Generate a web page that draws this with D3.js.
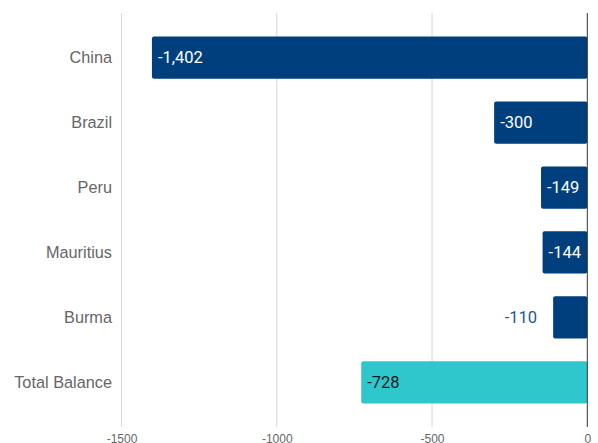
<!DOCTYPE html>
<html>
<head>
<meta charset="utf-8">
<script src="https://cdn.jsdelivr.net/npm/d3@7"></script>
<style>
  html, body { margin: 0; padding: 0; background: #fff; }
  svg { display: block; font-family: Roboto, "Noto Sans", sans-serif; }
</style>
</head>
<body>
<svg id="chart" width="598" height="443"></svg>
<script>
// Trade balance by country (negative = deficit)
const categories = ["China", "Brazil", "Peru", "Mauritius", "Burma", "Total Balance"];
const values = [-1402, -300, -149, -144, -110, -728];
const isTotal = [false, false, false, false, false, true];
const xTicks = [-1500, -1000, -500, 0];

(function () {
  const svg = d3.select("#chart");
  const plotLeft = 121.5, plotRight = 587.3, plotTop = 13, plotBottom = 427;
  const axisFont = '"Liberation Sans", Arial, sans-serif';

  const x = d3.scaleLinear().domain([-1500, 0]).range([plotLeft, plotRight]);
  const y = d3.scaleBand().domain(categories).range([plotTop, plotBottom])
    .paddingInner(0.35).paddingOuter(0.36);

  // vertical gridlines
  svg.append("g").selectAll("line").data(xTicks.filter(t => t !== 0)).join("line")
    .attr("x1", d => x(d)).attr("x2", d => x(d))
    .attr("y1", plotTop).attr("y2", plotBottom)
    .attr("stroke", "#d6d6d6").attr("stroke-width", 1);

  // x axis tick labels (plain hyphen for the sign)
  const xAxis = d3.axisBottom(x).tickValues(xTicks).tickSize(0).tickPadding(0)
    .tickFormat(d => String(d));
  const gx = svg.append("g").attr("transform", `translate(0,${plotBottom + 5})`).call(xAxis);
  gx.select(".domain").remove();
  gx.selectAll("text").attr("fill", "#666").attr("font-size", 12)
    .attr("dy", "0.95em").style("font-family", axisFont);

  // bars
  const data = categories.map((c, i) => ({ c, v: values[i], total: isTotal[i] }));
  svg.append("g").selectAll("rect").data(data).join("rect")
    .attr("x", d => x(d.v))
    .attr("y", d => y(d.c))
    .attr("width", d => x(0) - x(d.v))
    .attr("height", y.bandwidth())
    .attr("rx", 2)
    .attr("fill", d => d.total ? "#2ec8cc" : "#003f7d");

  // zero line
  svg.append("line")
    .attr("x1", x(0)).attr("x2", x(0)).attr("y1", plotTop).attr("y2", plotBottom)
    .attr("stroke", "#333").attr("stroke-width", 1);

  // category labels
  const gy = svg.append("g").attr("transform", "translate(112,0)")
    .call(d3.axisLeft(y).tickSize(0).tickPadding(0));
  gy.select(".domain").remove();
  gy.selectAll("text").attr("fill", "#666").attr("font-size", 16.3)
    .style("font-family", axisFont);

  // value labels: inside the bar when it fits, otherwise to its left
  const fmt = v => (v < 0 ? "-" : "") + d3.format(",")(Math.abs(v));
  svg.append("g").selectAll("text").data(data).join("text")
    .attr("y", d => y(d.c) + y.bandwidth() / 2)
    .attr("dy", "0.35em")
    .attr("font-size", 16.5)
    .each(function (d) {
      const t = d3.select(this).text(fmt(d.v));
      const w = this.getComputedTextLength();
      const barW = x(0) - x(d.v);
      if (w + 10 <= barW) {
        t.attr("x", x(d.v) + 6).attr("text-anchor", "start")
          .attr("fill", d.total ? "#1a1a1a" : "#ffffff");
      } else {
        t.attr("x", x(d.v) - 16).attr("text-anchor", "end").attr("fill", "#1f5596");
      }
    });
})();
</script>
</body>
</html>
